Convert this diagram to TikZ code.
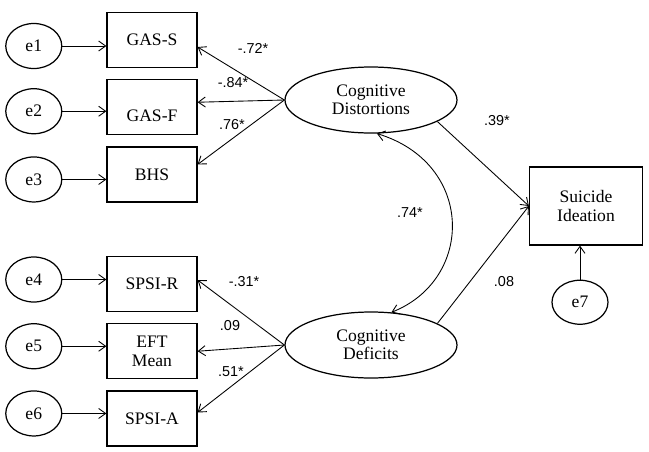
\documentclass[tikz,border=0pt]{standalone}
\usepackage{fontspec}
\setmainfont{Liberation Serif}
\newfontfamily\coeffont{Liberation Sans}
\usetikzlibrary{positioning, shapes.geometric, arrows.meta}

\begin{document}
\begin{tikzpicture}[
    every node/.style={font=\fontsize{10}{10.5}\selectfont},
    indicator/.style={rectangle, draw, line width=0.7pt, minimum width=1.8cm, minimum height=1.1cm, inner sep=1pt, align=center},
    errvar/.style={ellipse, draw, line width=0.7pt, minimum width=1.12cm, minimum height=0.9cm, inner sep=0pt},
    latent/.style={ellipse, draw, line width=0.7pt, minimum width=3.44cm, minimum height=1.32cm, inner sep=0pt, align=center},
    effect/.style={-{Straight Barb[length=1.4mm, width=2mm]}, line width=0.5pt},
    covar/.style={{Straight Barb[length=1.4mm, width=2mm]}-{Straight Barb[length=1.4mm, width=2mm]}, line width=0.5pt},
    coef/.style={font=\coeffont\fontsize{8.2}{9}\selectfont, inner sep=1pt}
]
\useasboundingbox (0,0) rectangle (12.98,9.02);

% Indicators
\node[indicator] (gas_s) at (3.04,8.22) {GAS-S};
\node[indicator, below=2.2mm of gas_s] (gas_f) {\raisebox{-0.18cm}[\height][\depth]{GAS-F}};
\node[indicator, below=2.2mm of gas_f] (bhs) {BHS};
\node[indicator] (spsi_r) at (3.04,3.34) {SPSI-R};
\node[indicator, below=2.2mm of spsi_r] (eft) {EFT\\Mean};
\node[indicator, below=2.2mm of eft] (spsi_a) {SPSI-A};

% Error terms
\node[errvar, left=8.8mm of gas_s, yshift=-1.2mm] (e1) {e1};
\node[errvar, left=8.8mm of gas_f, yshift=-0.8mm] (e2) {e2};
\node[errvar, left=8.8mm of bhs, yshift=-1mm] (e3) {e3};
\node[errvar, left=8.8mm of spsi_r, yshift=0.9mm] (e4) {e4};
\node[errvar, left=8.8mm of eft, yshift=1mm] (e5) {e5};
\node[errvar, left=8.8mm of spsi_a, yshift=1mm] (e6) {e6};

\draw[effect] (e1) -- (e1 -| gas_s.west);
\draw[effect] (e2) -- (e2 -| gas_f.west);
\draw[effect] (e3) -- (e3 -| bhs.west);
\draw[effect] (e4) -- (e4 -| spsi_r.west);
\draw[effect] (e5) -- (e5 -| eft.west);
\draw[effect] (e6) -- (e6 -| spsi_a.west);

% Latent variables and outcome
\node[latent] (dist) at (7.42,7.02) {Cognitive\\Distortions};
\node[latent] (def) at (7.42,2.12) {Cognitive\\Deficits};
\node[indicator, minimum width=2.26cm, minimum height=1.56cm] (si) at (11.72,4.90) {Suicide\\Ideation};
\node[errvar, minimum height=0.88cm, below=6.8mm of si, xshift=-1.2mm] (e7) {e7};

% Loadings
\draw[effect] (dist.west) -- ([yshift=-1.4mm]gas_s.east);
\draw[effect] (dist.west) -- ([yshift=1mm]gas_f.east);
\draw[effect] (dist.west) -- ([yshift=2mm]bhs.east);
\draw[effect] (def.west) -- ([yshift=0.8mm]spsi_r.east);
\draw[effect] (def.west) -- (eft.east);
\draw[effect] (def.west) -- ([yshift=1.2mm]spsi_a.east);

% Structural paths
\draw[effect] (dist.-18) -- (si.west);
\draw[effect] (def.18) -- (si.west);
\draw[effect] (e7) -- (e7.north |- si.south);
\draw[covar] (dist.-80) .. controls +(1.96,-0.6) and +(1.66,0.66) .. (def.58);

% Coefficients
\node[coef] (c_gas_s) at (5.06,8.06) {-.72*};
\node[coef] (c_gas_f) at (4.66,7.36) {-.84*};
\node[coef] (c_bhs) at (4.64,6.52) {.76*};
\node[coef] (c_spsi_r) at (4.88,3.38) {-.31*};
\node[coef] (c_eft) at (4.60,2.50) {.09};
\node[coef] (c_spsi_a) at (4.62,1.58) {.51*};
\node[coef] (c_cov) at (8.20,4.76) {.74*};
\node[coef] (c_dist_si) at (9.94,6.60) {.39*};
\node[coef] (c_def_si) at (10.08,3.38) {.08};

\end{tikzpicture}
\end{document}
